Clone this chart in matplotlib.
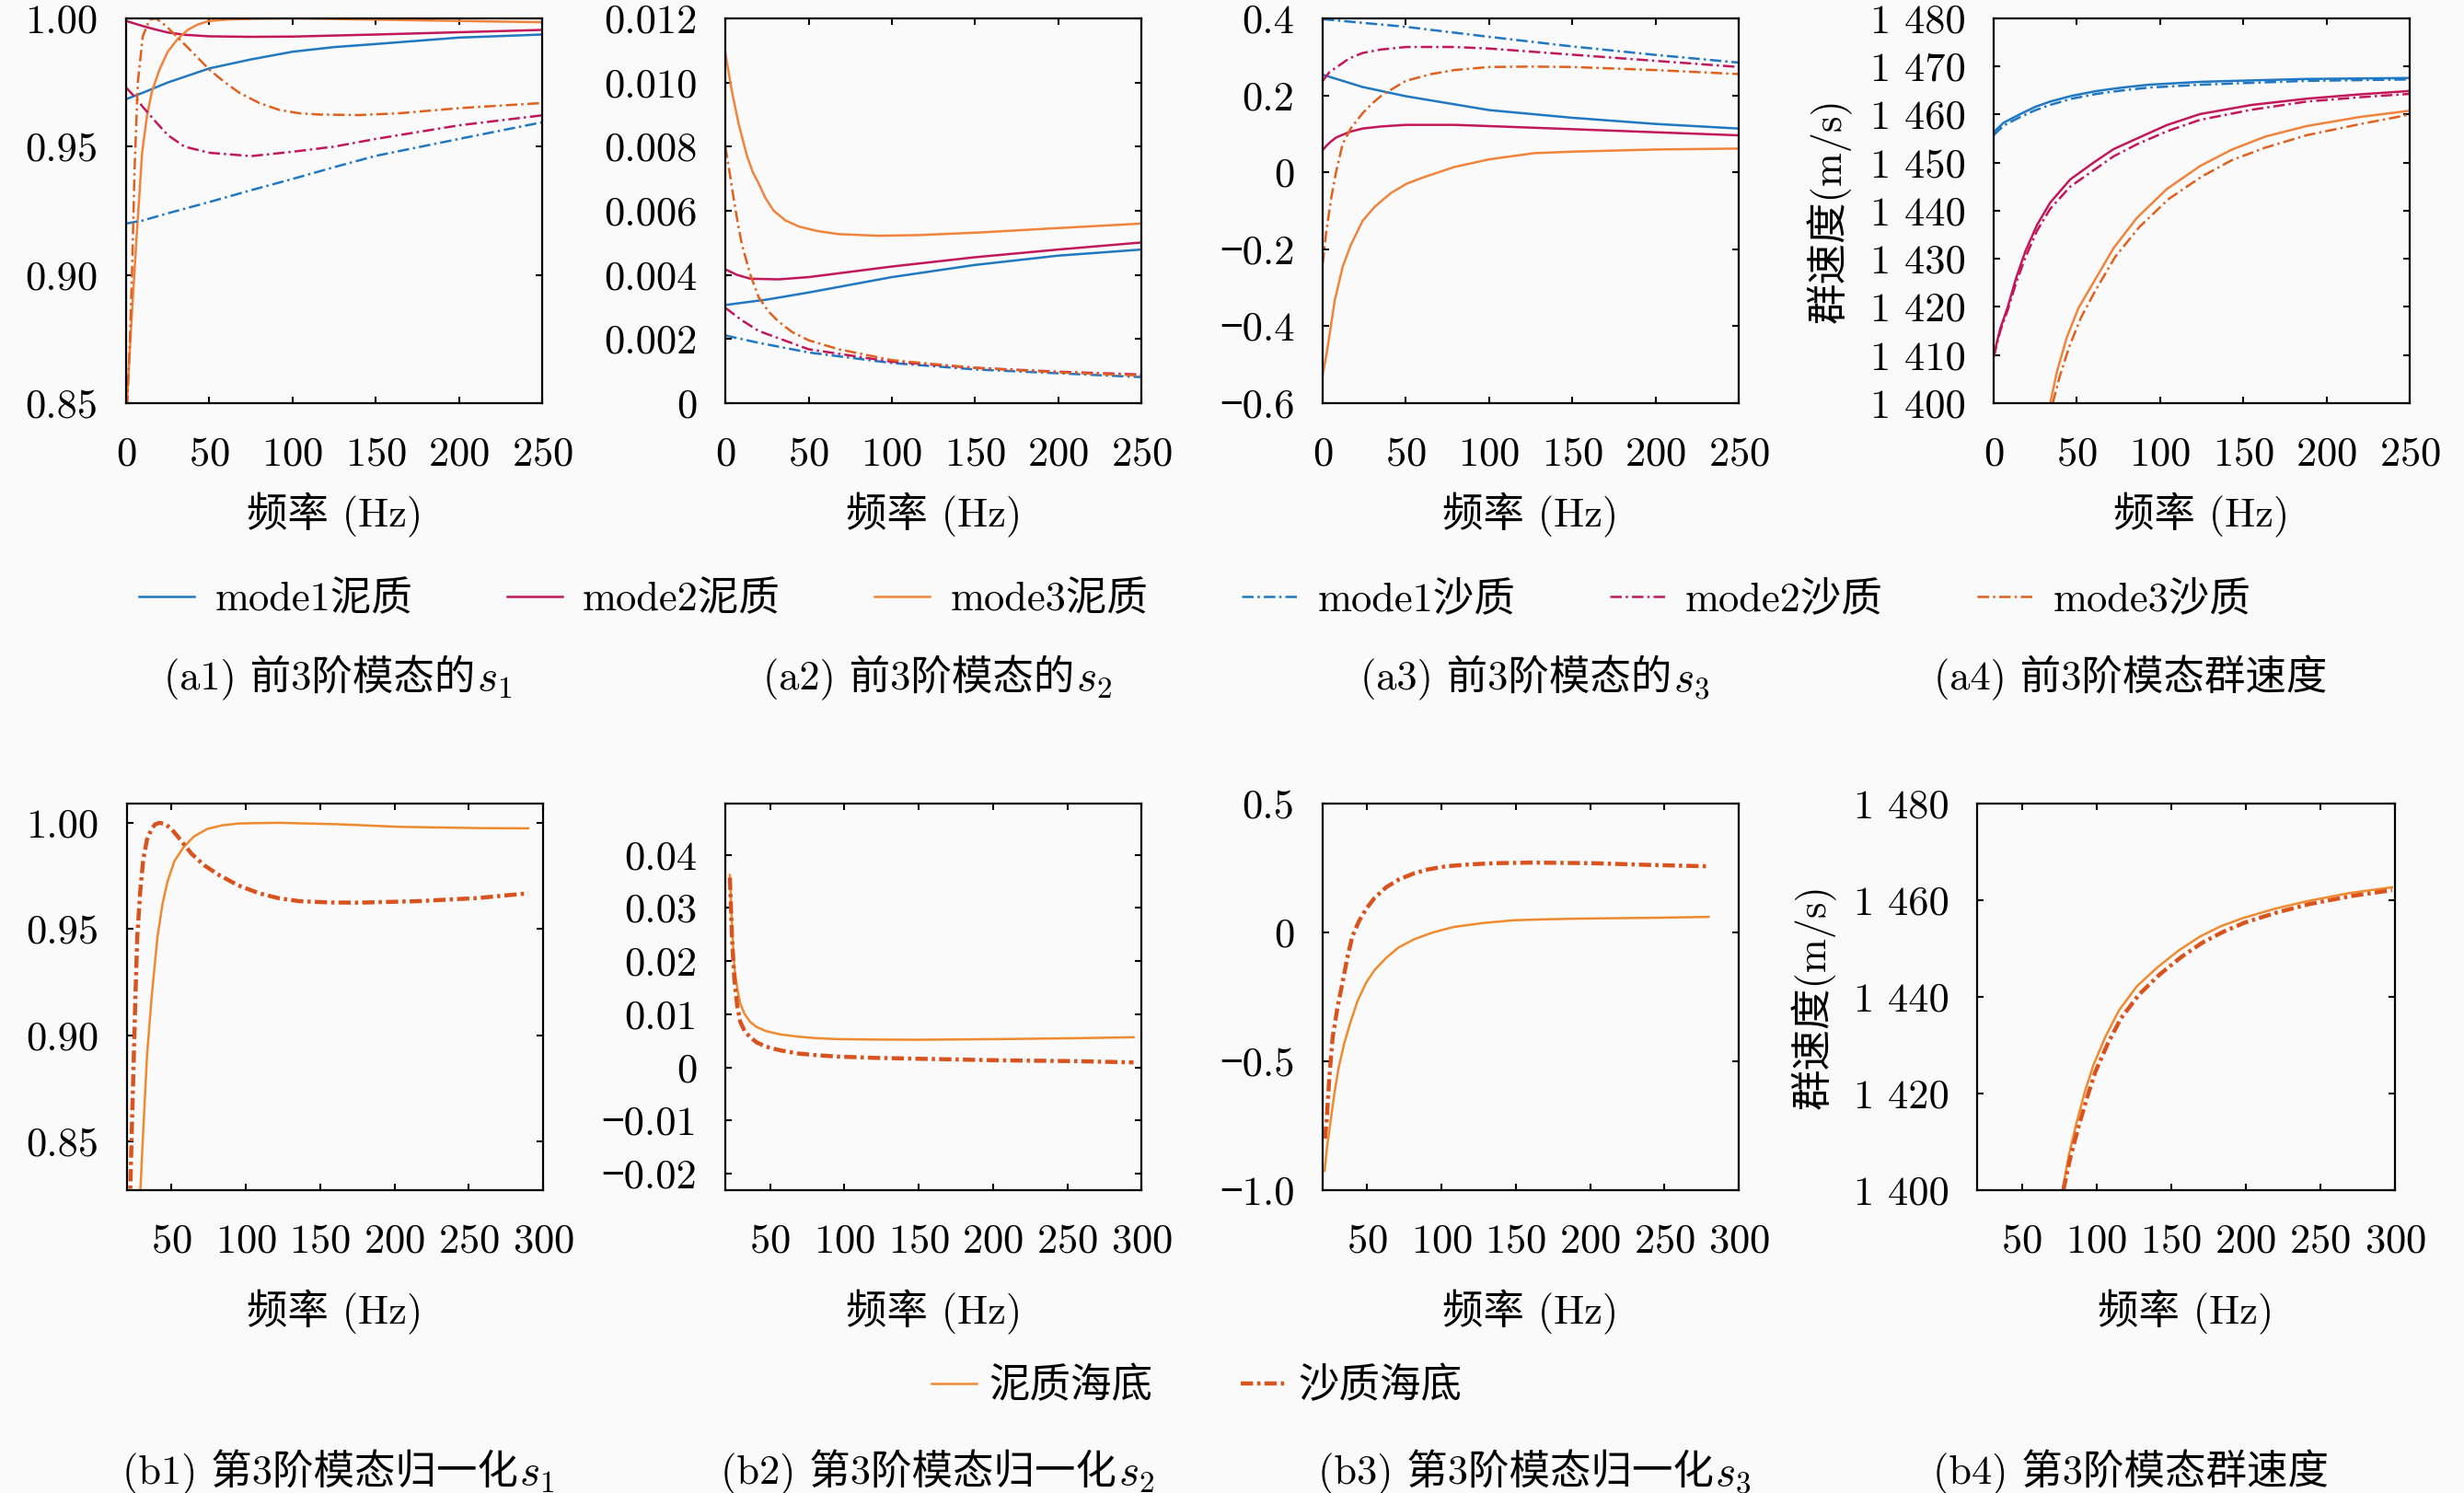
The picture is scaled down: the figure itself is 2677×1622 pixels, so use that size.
import matplotlib
matplotlib.use('Agg')
import matplotlib.pyplot as plt
from matplotlib.ticker import FuncFormatter, MultipleLocator

plt.rcParams['font.family'] = ['cmr10', 'Noto Sans CJK SC', 'DejaVu Sans']
plt.rcParams['mathtext.fontset'] = 'cm'
plt.rcParams['axes.formatter.use_mathtext'] = True
FS = 32

# ---------------- (a) 前3阶模态, 0-250 Hz ----------------
# a1: s1
a1_m1_mud_f = [0, 10, 25, 50, 75, 100, 125, 150, 200, 250]
a1_m1_mud = [0.9685, 0.971, 0.975, 0.9805, 0.984, 0.987, 0.9888, 0.990, 0.9925, 0.9937]
a1_m1_sand = [0.920, 0.9212, 0.924, 0.9284, 0.933, 0.9374, 0.942, 0.9464, 0.953, 0.9595]
a1_m2_mud_f = [0, 5, 10, 18, 25, 35, 50, 75, 100, 125, 150, 200, 250]
a1_m2_mud = [0.999, 0.998, 0.997, 0.9956, 0.9945, 0.9936, 0.993, 0.9928, 0.9929, 0.9933,
             0.9937, 0.9946, 0.9955]
a1_m2_sand = [0.973, 0.9695, 0.9655, 0.9595, 0.9545, 0.950, 0.9476, 0.9463, 0.948, 0.950,
              0.953, 0.9583, 0.9622]
a1_m3_mud_f = [0, 3, 6, 9.6, 12.5, 15.5, 20, 25, 31, 37, 43, 50, 62, 75, 100, 150, 200, 250]
a1_m3_mud = [0.845, 0.88, 0.912, 0.9476, 0.962, 0.9715, 0.980, 0.987, 0.992, 0.9955, 0.9976,
             0.999, 0.9996, 0.9998, 1.0, 0.9995, 0.999, 0.9985]
a1_m3_sand_f = [0, 2, 3.5, 5, 7, 10, 14, 18, 24, 32, 41, 50, 59, 68, 80, 92, 104, 116, 140,
                164, 200, 250]
a1_m3_sand = [0.84, 0.87, 0.90, 0.94, 0.975, 0.993, 0.9995, 1.0, 0.997, 0.9919, 0.986, 0.980,
              0.9752, 0.971, 0.967, 0.9643, 0.963, 0.9625, 0.9623, 0.963, 0.965, 0.967]

# a2: s2
a2_m1_mud_f = [0, 25, 50, 100, 150, 200, 250]
a2_m1_mud = [0.00306, 0.00323, 0.00345, 0.00393, 0.00431, 0.0046, 0.00479]
a2_m2_mud_f = [0, 7, 15, 32, 50, 100, 150, 200, 250]
a2_m2_mud = [0.00417, 0.0040, 0.00388, 0.00386, 0.00393, 0.00426, 0.00455, 0.00479, 0.00501]
a2_m3_mud_f = [0, 2, 4, 6, 8, 10.5, 13, 16.5, 20, 24, 29, 36, 44, 55, 68, 92, 116, 152, 200, 250]
a2_m3_mud = [0.01092, 0.0103, 0.0097, 0.0092, 0.0087, 0.0082, 0.0077, 0.0072, 0.00685, 0.0064,
             0.0060, 0.0057, 0.00551, 0.00537, 0.00527, 0.00522, 0.00524, 0.00532, 0.00546, 0.0056]
a2_m1_sand_f = [0, 20, 50, 100, 150, 200, 250]
a2_m1_sand = [0.00211, 0.00188, 0.00158, 0.00125, 0.00105, 0.00093, 0.00081]
a2_m2_sand_f = [0, 10, 20, 50, 100, 150, 200, 250]
a2_m2_sand = [0.00297, 0.00258, 0.00225, 0.00168, 0.00129, 0.0011, 0.00098, 0.00089]
a2_m3_sand_f = [0, 2.5, 5, 7.5, 10, 15, 20, 26, 32, 40, 50, 68, 100, 150, 200, 250]
a2_m3_sand = [0.008, 0.0072, 0.00637, 0.0056, 0.00493, 0.0040, 0.0033, 0.00285, 0.00254,
              0.00222, 0.00196, 0.00168, 0.00134, 0.0011, 0.00096, 0.00086]

# a3: s3
a3_m1_mud_f = [0, 24, 50, 100, 150, 200, 250]
a3_m1_mud = [0.2536, 0.2216, 0.1976, 0.1616, 0.1416, 0.1256, 0.1136]
a3_m2_mud_f = [0, 2.5, 5, 8, 12, 17, 24, 35, 50, 79, 100, 150, 200, 250]
a3_m2_mud = [0.0576, 0.07, 0.08, 0.09, 0.0976, 0.106, 0.1136, 0.119, 0.1232, 0.1232, 0.12,
             0.112, 0.104, 0.096]
a3_m3_mud_f = [0, 2.4, 5, 7.2, 12, 16.8, 24, 31.2, 41, 50.3, 60, 79, 100, 127, 150, 200, 250]
a3_m3_mud = [-0.5264, -0.4704, -0.398, -0.334, -0.246, -0.190, -0.126, -0.090, -0.054, -0.030,
             -0.014, 0.0136, 0.0336, 0.0496, 0.0536, 0.0592, 0.0616]
a3_m1_sand_f = [0, 50, 100, 150, 200, 250]
a3_m1_sand = [0.398, 0.378, 0.352, 0.327, 0.305, 0.285]
a3_m2_sand_f = [0, 4, 10, 16, 24, 35, 50, 79, 100, 150, 200, 250]
a3_m2_sand = [0.2376, 0.26, 0.278, 0.296, 0.31, 0.319, 0.3256, 0.3256, 0.3216, 0.3056,
              0.2896, 0.2736]
a3_m3_sand_f = [0, 2, 5, 8, 12, 17, 24, 30, 36, 50, 65, 79, 100, 125, 150, 200, 250]
a3_m3_sand = [-0.238, -0.16, -0.07, 0.0, 0.0736, 0.115, 0.1536, 0.18, 0.2016, 0.2376, 0.255,
              0.2656, 0.2736, 0.2746, 0.2736, 0.2656, 0.2552]

# a4: 群速度 (m/s)
a4_m1_f = [0, 6, 16, 25, 34, 47, 62, 77, 93, 124, 155, 188, 250]
a4_m1_mud = [1456.3, 1458.3, 1460.1, 1461.6, 1462.7, 1463.9, 1464.9, 1465.6, 1466.2, 1466.8,
             1467.1, 1467.4, 1467.6]
a4_m1_sand = [1455.7, 1457.7, 1459.5, 1460.9, 1462.0, 1463.3, 1464.3, 1465.0, 1465.6, 1466.2,
              1466.6, 1467.0, 1467.3]
a4_m2_f = [0, 4, 8.5, 13.5, 19, 26, 34, 46, 60, 72, 86, 104, 124, 155, 188, 220, 250]
a4_m2_mud = [1409.9, 1415.5, 1420.0, 1426.0, 1431.5, 1437.0, 1441.7, 1446.5, 1450.0, 1452.8,
             1455.0, 1457.8, 1460.1, 1462.0, 1463.3, 1464.2, 1464.9]
a4_m2_sand = [1409.5, 1415.0, 1419.4, 1425.0, 1430.2, 1435.8, 1440.4, 1445.0, 1448.4, 1451.3,
              1453.8, 1456.5, 1458.9, 1461.0, 1462.7, 1463.6, 1464.3]
a4_m3_mud_f = [34, 38, 44, 51, 60, 72, 86, 104, 124, 143, 163, 188, 220, 250]
a4_m3_mud = [1400, 1406.5, 1413.7, 1419.8, 1425.1, 1432.2, 1438.5, 1444.5, 1449.3, 1452.7,
             1455.4, 1457.6, 1459.5, 1460.8]
a4_m3_sand_f = [35.5, 39.5, 45.5, 52.5, 61, 73, 87.5, 105, 125, 143, 163, 188, 220, 250]
a4_m3_sand = [1400, 1405.3, 1411.8, 1417.8, 1423.3, 1430.4, 1436.6, 1442.4, 1447.1, 1450.5,
              1453.1, 1455.7, 1458.0, 1460.0]

# ---------------- (b) 第3阶模态, 20-300 Hz ----------------
b1_mud_f = [28.6, 31, 33.5, 36.6, 40.6, 44, 47.4, 52, 58, 65, 74, 84, 95.6, 122, 162.7, 203,
            256.5, 290]
b1_mud = [0.82, 0.855, 0.89, 0.9176, 0.9465, 0.962, 0.9725, 0.982, 0.9884, 0.9935, 0.9971,
          0.9988, 0.9997, 1.0, 0.9993, 0.9981, 0.9975, 0.9974]
b1_sand_f = [22, 23.3, 24.6, 25.8, 27, 29, 31, 33.5, 36.6, 39, 42, 46, 50, 56, 63.4, 72, 82, 95,
             109, 122, 136, 156, 176, 216, 256.5, 290]
b1_sand = [0.82, 0.855, 0.8887, 0.92, 0.9465, 0.968, 0.9827, 0.992, 0.9971, 0.9993, 1.0, 0.9993,
           0.9971, 0.992, 0.9855, 0.980, 0.9754, 0.9705, 0.9668, 0.9645, 0.9631, 0.9625, 0.9624,
           0.9631, 0.9646, 0.9668]

b2_f = [23, 24.5, 26, 28, 30, 33, 36.7, 41, 47.4, 57, 69, 81, 96, 120, 149.5, 203, 257, 294.6]
b2_mud = [0.0362, 0.026, 0.0189, 0.0148, 0.0120, 0.0100, 0.00855, 0.0076, 0.00682, 0.0062,
          0.00578, 0.0055, 0.00532, 0.00524, 0.0052, 0.00532, 0.0055, 0.00567]
b2_sand = [0.0357, 0.024, 0.0166, 0.0115, 0.00855, 0.0068, 0.00567, 0.0047, 0.0039, 0.0032,
           0.00261, 0.0023, 0.00203, 0.0018, 0.00163, 0.00134, 0.00117, 0.00094]

b3_mud_f = [21.3, 23, 25.4, 28, 30.7, 34.5, 38.7, 43.5, 49.4, 55, 62.8, 71, 81.6, 94, 108, 128,
            148.5, 168, 188.6, 215, 242, 279.6]
b3_mud = [-0.925, -0.83, -0.729, -0.62, -0.526, -0.43, -0.348, -0.265, -0.193, -0.145, -0.098,
          -0.058, -0.026, 0.0, 0.0214, 0.037, 0.0476, 0.051, 0.0536, 0.0555, 0.0571, 0.0607]
b3_sand_f = [21.5, 22.7, 24.5, 26.7, 30, 33.4, 36.5, 40, 44.5, 49.4, 55, 62.8, 71, 81.6, 91, 103,
             118, 135, 162, 202, 242, 279.6]
b3_sand = [-0.80, -0.729, -0.56, -0.407, -0.29, -0.193, -0.10, -0.014, 0.045, 0.0929, 0.135,
           0.176, 0.205, 0.230, 0.245, 0.257, 0.264, 0.269, 0.2714, 0.269, 0.262, 0.257]

b4_mud_f = [77.2, 81.5, 86.4, 92, 97.8, 106, 115, 127, 140.7, 155, 169.3, 183, 197.9, 220,
            240.8, 269.4, 298]
b4_mud = [1400, 1407.3, 1413.7, 1420.2, 1425.8, 1431.8, 1437.2, 1442.2, 1446.1, 1449.6, 1452.5,
          1454.6, 1456.3, 1458.3, 1459.8, 1461.5, 1462.7]
b4_sand_f = [77.8, 82.5, 87.8, 93.5, 99.2, 107.5, 116.4, 128.5, 142.1, 156.5, 170.7, 185, 199.4,
             221, 242.3, 270.9, 298]
b4_sand = [1400, 1406.8, 1413.0, 1419.0, 1424.5, 1430.3, 1435.6, 1440.5, 1444.6, 1448.2, 1451.2,
           1453.5, 1455.4, 1457.5, 1459.2, 1460.9, 1462.1]

labels_a = ['mode1泥质', 'mode2泥质', 'mode3泥质', 'mode1沙质', 'mode2沙质', 'mode3沙质']
labels_b = ['泥质海底', '沙质海底']

C1 = '#1f78c1'
C2 = '#c2185b'
C3 = '#f0843c'
C3S = '#e0601e'
B_MUD = '#f08a2e'
B_SAND = '#d9531e'
BG = '#fafafa'


def num_fmt(dec):
    def f(v, p):
        if abs(v) < 1e-12:
            return '0'
        return ('%.*f' % (dec, v)).replace('-', '\u2212')
    return FuncFormatter(f)


def speed_fmt(v, p):
    v = int(round(v))
    return '%d %03d' % (v // 1000, v % 1000)


def style(ax, xpad):
    ax.set_facecolor(BG)
    for s in ax.spines.values():
        s.set_linewidth(1.6)
    ax.tick_params(direction='in', top=True, right=True, length=5, width=1.5,
                   labelsize=FS, pad=22)
    ax.tick_params(axis='x', pad=26)
    ax.set_xlabel('频率 (Hz)', fontsize=FS, labelpad=xpad)


fig = plt.figure(figsize=(26.77, 16.22), dpi=100, facecolor=BG)

W = 0.1689
ya, ha = 0.7300, 0.2577
yb, hb = 0.2028, 0.2589
ax_a = [fig.add_axes([x, ya, W, ha]) for x in (0.0512, 0.2944, 0.5368, 0.8091)]
ax_b = [fig.add_axes([x, yb, W if i < 3 else 0.1696, hb])
        for i, x in enumerate((0.0515, 0.2944, 0.5368, 0.8024))]

lw = 1.8
ls_dd = (0, (5.0, 1.7, 1.0, 1.7))

# a1
ax = ax_a[0]
ax.plot(a1_m1_mud_f, a1_m1_mud, color=C1, lw=lw, label=labels_a[0])
ax.plot(a1_m2_mud_f, a1_m2_mud, color=C2, lw=lw, label=labels_a[1])
ax.plot(a1_m3_mud_f, a1_m3_mud, color=C3, lw=lw, label=labels_a[2])
ax.plot(a1_m1_mud_f, a1_m1_sand, color=C1, lw=lw, ls=ls_dd, label=labels_a[3])
ax.plot(a1_m2_mud_f, a1_m2_sand, color=C2, lw=lw, ls=ls_dd, label=labels_a[4])
ax.plot(a1_m3_sand_f, a1_m3_sand, color=C3S, lw=lw, ls=ls_dd, label=labels_a[5])
ax.set_ylim(0.85, 1.00)
ax.yaxis.set_major_locator(MultipleLocator(0.05))
ax.yaxis.set_major_formatter(num_fmt(2))

# a2
ax = ax_a[1]
ax.plot(a2_m1_mud_f, a2_m1_mud, color=C1, lw=lw)
ax.plot(a2_m2_mud_f, a2_m2_mud, color=C2, lw=lw)
ax.plot(a2_m3_mud_f, a2_m3_mud, color=C3, lw=lw)
ax.plot(a2_m1_sand_f, a2_m1_sand, color=C1, lw=lw, ls=ls_dd)
ax.plot(a2_m2_sand_f, a2_m2_sand, color=C2, lw=lw, ls=ls_dd)
ax.plot(a2_m3_sand_f, a2_m3_sand, color=C3S, lw=lw, ls=ls_dd)
ax.set_ylim(0, 0.012)
ax.yaxis.set_major_locator(MultipleLocator(0.002))
ax.yaxis.set_major_formatter(num_fmt(3))

# a3
ax = ax_a[2]
ax.plot(a3_m1_mud_f, a3_m1_mud, color=C1, lw=lw)
ax.plot(a3_m2_mud_f, a3_m2_mud, color=C2, lw=lw)
ax.plot(a3_m3_mud_f, a3_m3_mud, color=C3, lw=lw)
ax.plot(a3_m1_sand_f, a3_m1_sand, color=C1, lw=lw, ls=ls_dd)
ax.plot(a3_m2_sand_f, a3_m2_sand, color=C2, lw=lw, ls=ls_dd)
ax.plot(a3_m3_sand_f, a3_m3_sand, color=C3S, lw=lw, ls=ls_dd)
ax.set_ylim(-0.6, 0.4)
ax.yaxis.set_major_locator(MultipleLocator(0.2))
ax.yaxis.set_major_formatter(num_fmt(1))

# a4
ax = ax_a[3]
ax.plot(a4_m1_f, a4_m1_mud, color=C1, lw=lw)
ax.plot(a4_m2_f, a4_m2_mud, color=C2, lw=lw)
ax.plot(a4_m3_mud_f, a4_m3_mud, color=C3, lw=lw)
ax.plot(a4_m1_f, a4_m1_sand, color=C1, lw=lw, ls=ls_dd)
ax.plot(a4_m2_f, a4_m2_sand, color=C2, lw=lw, ls=ls_dd)
ax.plot(a4_m3_sand_f, a4_m3_sand, color=C3S, lw=lw, ls=ls_dd)
ax.set_ylim(1400, 1480)
ax.yaxis.set_major_locator(MultipleLocator(10))
ax.yaxis.set_major_formatter(FuncFormatter(speed_fmt))
ax.set_ylabel('群速度(m/s)', fontsize=FS, labelpad=14)

for ax in ax_a:
    style(ax, 15)
    ax.set_xlim(0, 250)
    ax.xaxis.set_major_locator(MultipleLocator(50))

# b row
lwb = 1.8
lwbs = 3.2
ls_b = (0, (3.0, 1.0, 0.8, 1.0))
b_data = [(b1_mud_f, b1_mud, b1_sand_f, b1_sand),
          (b2_f, b2_mud, b2_f, b2_sand),
          (b3_mud_f, b3_mud, b3_sand_f, b3_sand),
          (b4_mud_f, b4_mud, b4_sand_f, b4_sand)]
for ax, (fm, vm, fs_, vs) in zip(ax_b, b_data):
    hm, = ax.plot(fm, vm, color=B_MUD, lw=lwb)
    hs, = ax.plot(fs_, vs, color=B_SAND, lw=lwbs, ls=ls_b)
    style(ax, 23)
    ax.set_xlim(20, 300)
    ax.xaxis.set_major_locator(MultipleLocator(50))

ax_b[0].set_ylim(0.827, 1.009)
ax_b[0].yaxis.set_major_locator(MultipleLocator(0.05))
ax_b[0].yaxis.set_major_formatter(num_fmt(2))
ax_b[1].set_ylim(-0.0231, 0.0496)
ax_b[1].yaxis.set_major_locator(MultipleLocator(0.01))
ax_b[1].yaxis.set_major_formatter(num_fmt(2))
ax_b[2].set_ylim(-1.0, 0.5)
ax_b[2].yaxis.set_major_locator(MultipleLocator(0.5))
ax_b[2].yaxis.set_major_formatter(num_fmt(1))
ax_b[3].set_ylim(1400, 1480)
ax_b[3].yaxis.set_major_locator(MultipleLocator(20))
ax_b[3].yaxis.set_major_formatter(FuncFormatter(speed_fmt))
ax_b[3].set_ylabel('群速度(m/s)', fontsize=FS, labelpad=14)

# legends
h_a, l_a = ax_a[0].get_legend_handles_labels()
fig.legend(h_a, l_a, loc='center', bbox_to_anchor=(0.485, 0.598), ncol=6, frameon=False,
           fontsize=FS, handlelength=1.35, handletextpad=0.5, columnspacing=2.3)
fig.legend([hm, hs], labels_b, loc='center', bbox_to_anchor=(0.4856, 0.071), ncol=2,
           frameon=False, fontsize=FS, handlelength=1.1, handletextpad=0.3, columnspacing=2.15)


# captions
def caption(xc, text, sub, y):
    shift = 0.006 if sub else 0.0
    t = fig.text(xc - shift, y, text, ha='center', va='center', fontsize=FS)
    if sub:
        fig.axes[0].annotate('$s_%s$' % sub, xy=(1, 0), xycoords=t, xytext=(1, 0),
                             textcoords='offset points', ha='left', va='bottom',
                             fontsize=FS + 2, annotation_clip=False)


def center(ax):
    bb = ax.get_position()
    return (bb.x0 + bb.x1) / 2


caption(center(ax_a[0]), '(a1) 前3阶模态的', '1', 0.546)
caption(center(ax_a[1]), '(a2) 前3阶模态的', '2', 0.546)
caption(center(ax_a[2]), '(a3) 前3阶模态的', '3', 0.546)
caption(0.8648, '(a4) 前3阶模态群速度', None, 0.546)
caption(center(ax_b[0]), '(b1) 第3阶模态归一化', '1', 0.014)
caption(center(ax_b[1]), '(b2) 第3阶模态归一化', '2', 0.014)
caption(center(ax_b[2]), '(b3) 第3阶模态归一化', '3', 0.014)
caption(0.8648, '(b4) 第3阶模态群速度', None, 0.014)

fig.savefig('out.png', dpi=100, facecolor=BG)
